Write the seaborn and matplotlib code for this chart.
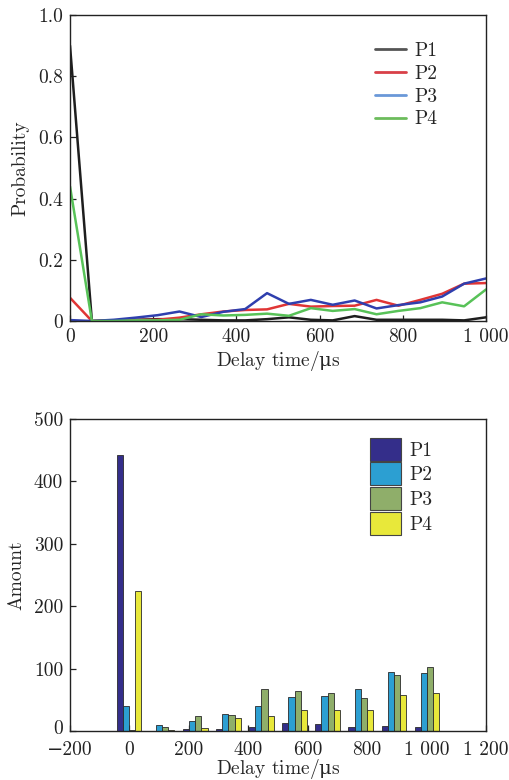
import numpy as np
import pandas as pd
import matplotlib
matplotlib.use("Agg")
import matplotlib.pyplot as plt
import matplotlib.transforms as mtransforms
from matplotlib.lines import Line2D
from matplotlib.patches import Patch
import seaborn as sns

# ---- data -------------------------------------------------------------
series = ["P1", "P2", "P3", "P4"]

# probability vs delay time (20 samples, 0 .. 1000 us)
delay_prob = np.linspace(0, 1000, 20)
prob_p1 = [0.90, 0.0, 0.002, 0.004, 0.006, 0.006, 0.004, 0.002, 0.002, 0.006,
           0.012, 0.004, 0.002, 0.016, 0.004, 0.004, 0.004, 0.004, 0.002, 0.012]
prob_p2 = [0.076, 0.0, 0.002, 0.003, 0.004, 0.011, 0.022, 0.031, 0.036, 0.038,
           0.056, 0.047, 0.049, 0.050, 0.069, 0.050, 0.069, 0.089, 0.122, 0.124]
prob_p3 = [0.003, 0.0, 0.004, 0.011, 0.019, 0.031, 0.013, 0.030, 0.039, 0.091,
           0.056, 0.069, 0.053, 0.067, 0.041, 0.052, 0.061, 0.080, 0.122, 0.139]
prob_p4 = [0.44, 0.0, 0.0, 0.002, 0.002, 0.004, 0.022, 0.018, 0.020, 0.024,
           0.017, 0.042, 0.033, 0.039, 0.022, 0.033, 0.042, 0.061, 0.048, 0.103]

# counts vs delay time (10 groups, 0 .. 1000 us)
delay_amt = np.linspace(0, 1000, 10)
amt_p1 = [442, 0.5, 3.7, 3.2, 5.9, 12.3, 10.7, 5.9, 7.5, 7.0]
amt_p2 = [40, 9.5, 16, 27.8, 40.6, 54.5, 56.6, 67.3, 95, 92.4]
amt_p3 = [2, 6.4, 23.5, 26.2, 67.8, 64.6, 60.9, 53.4, 89.7, 103]
amt_p4 = [225, 1.6, 4.3, 21.4, 24.6, 34.2, 34.2, 33.7, 57.7, 61.4]

x_ticks_top = [0, 200, 400, 600, 800, 1000]
x_ticklabels_top = ["0", "200", "400", "600", "800", "1 000"]
y_ticks_top = [0, 0.2, 0.4, 0.6, 0.8, 1.0]
y_ticklabels_top = ["0", "0.2", "0.4", "0.6", "0.8", "1.0"]
x_ticks_bot = [-200, 0, 200, 400, 600, 800, 1000, 1200]
x_ticklabels_bot = ["\u2212200", "0", "200", "400", "600", "800", "1 000", "1 200"]
y_ticks_bot = [0, 100, 200, 300, 400, 500]

x_label = "Delay time/$\\mathrm{\\mu}$s"

line_colors = {"P1": "#1e1e1e", "P2": "#e03535", "P3": "#2f3fae", "P4": "#58c258"}
legend_line_colors = {"P1": "#555555", "P2": "#d84048", "P3": "#6a98d8", "P4": "#6cbc5c"}
bar_colors = {"P1": "#342e8a", "P2": "#2c9fd2", "P3": "#8fae6a", "P4": "#e8e83a"}

prob_df = pd.DataFrame({
    "Delay": np.tile(delay_prob, 4),
    "Probability": prob_p1 + prob_p2 + prob_p3 + prob_p4,
    "Series": np.repeat(series, len(delay_prob)),
})
amt_df = pd.DataFrame({
    "Delay": np.tile(delay_amt, 4),
    "Amount": amt_p1 + amt_p2 + amt_p3 + amt_p4,
    "Series": np.repeat(series, len(delay_amt)),
})

# ---- style ------------------------------------------------------------
sns.set_theme(style="ticks")
plt.rcParams["font.family"] = ["cmr10", "DejaVu Serif"]
plt.rcParams["mathtext.fontset"] = "custom"
plt.rcParams["mathtext.rm"] = "DejaVu Serif"
plt.rcParams["mathtext.it"] = "DejaVu Serif:italic"
plt.rcParams["axes.unicode_minus"] = False
plt.rcParams["axes.linewidth"] = 1.0
plt.rcParams["axes.edgecolor"] = "#222222"
FS = 14

W, H = 510, 780
fig = plt.figure(figsize=(W / 100, H / 100), dpi=100)
ax1 = fig.add_axes([70 / W, 1 - 321 / H, 416 / W, 306 / H])
ax2 = fig.add_axes([70 / W, 1 - 731 / H, 416 / W, 312 / H])

# ---- top: probability lines ------------------------------------------
sns.lineplot(data=prob_df, x="Delay", y="Probability", hue="Series",
             palette=line_colors, linewidth=1.8, ax=ax1, legend=False)
ax1.set_xlim(0, 1000)
ax1.set_ylim(0, 1.0)
ax1.set_xticks(x_ticks_top, x_ticklabels_top)
ax1.set_yticks(y_ticks_top, y_ticklabels_top)
ax1.set_xlabel(x_label, fontsize=FS, labelpad=2)
ax1.set_ylabel("Probability", fontsize=FS, labelpad=6)
handles = [Line2D([0], [0], color=legend_line_colors[s], lw=2.0) for s in series]
ax1.legend(handles, series, loc="upper right", bbox_to_anchor=(0.902, 0.937),
           frameon=False, fontsize=FS, handlelength=1.55, handletextpad=0.45,
           labelspacing=0.25, borderaxespad=0)

# ---- bottom: grouped bars --------------------------------------------
sns.barplot(data=amt_df, x="Delay", y="Amount", hue="Series",
            palette=bar_colors, native_scale=True, width=0.73, ax=ax2,
            edgecolor="#2a2a2a", linewidth=0.6, legend=False, errorbar=None,
            saturation=1)
ax2.set_xlim(-200, 1200)
ax2.set_ylim(0, 500)
ax2.set_xticks(x_ticks_bot, x_ticklabels_bot)
ax2.set_yticks(y_ticks_bot, [str(v) for v in y_ticks_bot])
ax2.set_xlabel(x_label, fontsize=FS, labelpad=-1)
ax2.set_ylabel("Amount", fontsize=FS, labelpad=6)
patches = [Patch(facecolor=bar_colors[s], edgecolor="#444444", lw=0.8) for s in series]
ax2.legend(patches, series, loc="upper right", bbox_to_anchor=(0.89, 0.965),
           frameon=False, fontsize=FS, handlelength=1.55, handleheight=1.45,
           handletextpad=0.45, labelspacing=0.08, borderaxespad=0)

for ax in (ax1, ax2):
    for side in ("top", "right", "left", "bottom"):
        ax.spines[side].set_visible(True)
    ax.tick_params(direction="in", length=4, width=0.9, labelsize=FS,
                   top=False, right=False, pad=5, colors="#222222")
ax2.tick_params(axis="x", pad=7)

# lift the bottom-left "0" a touch so it clears the -200 label below it
lift = mtransforms.ScaledTranslation(0, 2.5 / 72, fig.dpi_scale_trans)
zero_label = ax2.get_yticklabels()[0]
zero_label.set_transform(zero_label.get_transform() + lift)

fig.savefig("out.png", dpi=100)
